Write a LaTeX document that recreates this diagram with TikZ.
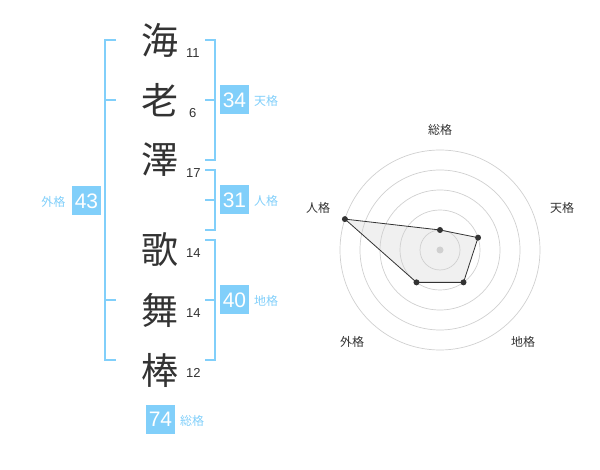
\documentclass[tikz,border=0pt]{standalone}
\usepackage{fontspec}
\setmainfont{Liberation Sans}
\newfontfamily\cjk{Noto Sans CJK JP}
\definecolor{sky}{HTML}{81CFFA}
\definecolor{ink}{HTML}{333333}
\definecolor{ring}{HTML}{D0D0D0}
\begin{document}
\begin{tikzpicture}[x=1pt,y=-1pt,
  kanji/.style={font=\cjk\fontsize{37}{37}\selectfont, text=ink, inner sep=0pt},
  strokes/.style={font=\fontsize{13}{13}\selectfont, text=ink, inner sep=0pt, anchor=west},
  valbox/.style={fill=sky, text=white, font=\fontsize{21}{21}\selectfont, minimum width=29pt, minimum height=29pt, inner sep=0pt},
  kaku/.style={font=\cjk\fontsize{12}{12}\selectfont, text=sky, inner sep=0pt},
  brk/.style={draw=sky, line width=2pt},
  axlbl/.style={font=\cjk\fontsize{12}{12}\selectfont, text=ink, inner sep=0pt},
  ringline/.style={draw=ring, line width=0.7pt},
  pt/.style={circle, fill=ink, inner sep=0pt, minimum size=6pt}]
\useasboundingbox (0,0) rectangle (600,470);
% kanji
\node[kanji] (k1) at (160,40) {海};
\node[kanji] (k2) at (160,100) {老};
\node[kanji] (k3) at (160,160) {澤};
\node[kanji] (k4) at (160,250) {歌};
\node[kanji] (k5) at (160,310) {舞};
\node[kanji] (k6) at (160,370) {棒};
\node[strokes] (s1) at (186,53) {11};
\node[strokes] (s2) at (189,113) {6};
\node[strokes] (s3) at (186,173) {17};
\node[strokes] (s4) at (186,253) {14};
\node[strokes] (s5) at (186,313) {14};
\node[strokes] (s6) at (186,373) {12};
% brackets
\draw[brk] (116,40) -- (105,40) -- (105,360) -- (116,360);
\draw[brk] (105,100) -- (116,100);
\draw[brk] (105,300) -- (116,300);
\draw[brk] (205,40) -- (214.5,40) -- (214.5,160) -- (205,160);
\draw[brk] (205,100) -- (214.5,100);
\draw[brk] (205,170) -- (214.5,170) -- (214.5,230) -- (205,230);
\draw[brk] (205,200) -- (214.5,200);
\draw[brk] (205,240) -- (214.5,240) -- (214.5,360) -- (205,360);
\draw[brk] (205,300) -- (214.5,300);
% value boxes
\node[valbox] (ten) at (234.5,100) {34};
\node[kaku] (tenl) at (266,101) {天格};
\node[valbox] (jin) at (234.5,200) {31};
\node[kaku] (jinl) at (266,201) {人格};
\node[valbox] (chi) at (234.5,300) {40};
\node[kaku] (chil) at (266,301) {地格};
\node[valbox] (gai) at (86.5,201) {43};
\node[kaku] (gail) at (53.5,202) {外格};
\node[valbox] (sou) at (160.5,419) {74};
\node[kaku] (soul) at (192,421) {総格};
% radar
\coordinate (c) at (440,250);
\path (c) ++(0,-20) coordinate (p1);
\path (c) ++(38.04,-12.36) coordinate (p2);
\path (c) ++(23.51,32.36) coordinate (p3);
\path (c) ++(-23.51,32.36) coordinate (p4);
\path (c) ++(-95.1,-30.9) coordinate (p5);
\fill[black!6] (p1) -- (p2) -- (p3) -- (p4) -- (p5) -- cycle;
\foreach \r in {20,40,60,80,100} \draw[ringline] (c) circle[radius=\r];
\fill[ring] (c) circle[radius=3.5];
\draw[draw=ink, line width=0.8pt] (p1) -- (p2) -- (p3) -- (p4) -- (p5) -- cycle;
\foreach \p in {p1,p2,p3,p4,p5} \node[pt] at (\p) {};
\node[axlbl] (a1) at (440,130) {総格};
\node[axlbl] (a2) at (562,208) {天格};
\node[axlbl] (a3) at (523,342) {地格};
\node[axlbl] (a4) at (352,342) {外格};
\node[axlbl] (a5) at (318,208) {人格};
\end{tikzpicture}
\end{document}
